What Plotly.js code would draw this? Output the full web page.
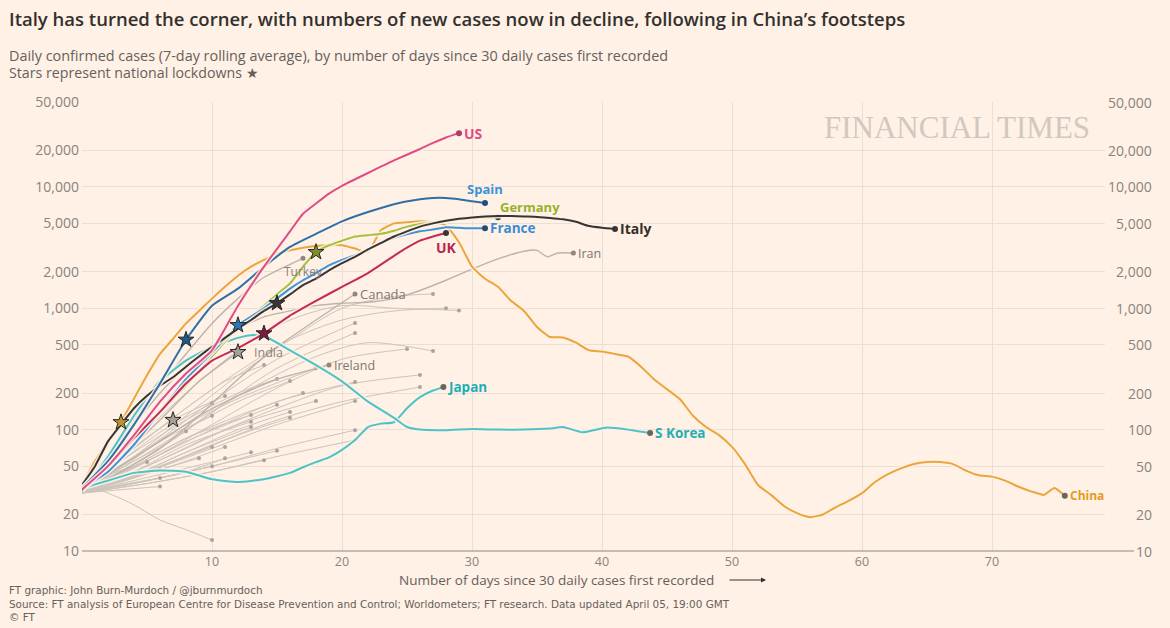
<!DOCTYPE html>
<html><head><meta charset="utf-8">
<script src="https://cdn.plot.ly/plotly-3.0.1.min.js"></script>
<style>html,body{margin:0;padding:0;background:#fff1e5;}#chart{width:1170px;height:628px;}</style>
</head><body><div id="chart"></div>
<script>
// ---------------- DATA ----------------
const yTickVals = [10, 20, 50, 100, 200, 500, 1000, 2000, 5000, 10000, 20000, 50000];
const xTickVals = [10, 20, 30, 40, 50, 60, 70];

const usDays = [0,2,4,6,8,10,12,14,16,17,18,19,20,22,24,26,27,28,29];
const usVals = [32,50,90,170,290,450,1050,2200,4300,6000,7300,8800,10200,13000,16500,20500,23000,25500,27700];

const spainDays = [0,2,4,6,8,10,12,14,16,18,20,22,24,26,27,28,29,30,31];
const spainVals = [33,55,110,240,550,1050,1450,2200,3200,4100,5200,6200,7200,7900,8100,8100,7900,7600,7360];

const franceDays = [0,2,4,6,8,10,12,14,16,17,18,19,20,22,23,24,26,27,28,29,30,31];
const franceVals = [33,45,75,140,260,430,725,1000,1450,1700,1950,2250,2500,3000,3450,3800,4300,4450,4650,4600,4550,4570];

const germanyDays = [0,2,4,6,8,10,12,13,14,15,16,17,18,19,20,21,22,23,24,25,26,27,28,29,30,31,32];
const germanyVals = [33,50,85,140,230,400,700,850,1050,1300,1600,2200,2900,3300,3600,3900,4000,4100,4350,4700,4950,5100,5250,5400,5500,5600,5630];

const italyDays = [0,1,2,3,4,5,6,7,8,9,10,11,12,13,14,15,16,17,18,19,20,21,22,23,24,25,26,27,28,29,30,31,32,33,34,35,36,37,38,39,40,41];
const italyVals = [35,50,80,110,150,190,230,270,330,400,480,570,680,800,950,1100,1300,1550,1750,2050,2350,2650,3050,3450,3900,4300,4700,5000,5250,5450,5600,5700,5750,5750,5700,5650,5550,5400,5150,4750,4600,4500];

const ukDays = [0,2,4,6,8,10,12,14,16,17,18,20,22,24,25,26,27,28];
const ukVals = [33,50,85,140,240,370,470,620,870,1000,1150,1500,1950,2700,3150,3600,3900,4170];

const chinaDays = [0,1,2,3,4,5,6,7,8,9,10,11,12,13,14,15,16,17,18,19,20,21,22,23,24,25,26,27,28,29,30,31,32,33,34,35,36,37,38,39,40,41,42,43,44,45,46,47,48,49,50,51,52,53,54,55,56,57,58,59,60,61,62,63,64,65,66,67,68,69,70,71,72,73,74,74.8,75.6];
const chinaVals = [35,55,80,115,180,280,420,560,750,950,1200,1500,1850,2200,2500,2800,3000,3150,3250,3300,3300,3100,2900,4400,5000,5100,5200,5100,4800,3500,2200,1750,1500,1150,950,700,580,575,520,450,440,420,400,330,260,215,178,130,105,90,72,52,35,29,23.5,20.5,19,20,23,26,30,37,43,48,52,54,54,52,46,42,41,38,34,31,29,33,28.5];

const skoreaDays = [0,2,4,6,8,10,12,13,14,16,18,20,22,24,25,26,28,30,32,34,36,37,38.5,40.4,42.3,43.7];
const skoreaVals = [31,60,130,250,370,480,570,600,590,450,340,250,170,125,105,100,99,101,100,100,102,105,95,104,99,94];

const japanDays = [0,2,4,6,8,10,12,14,16,17,18,19,20,21,22,23,24,25,26,27,27.8];
const japanVals = [33,38,44,46,45,39,37,39,44,49,54,59,68,82,105,112,115,150,185,210,224];

const iranDays = [0,2,4,6,8,10,12,14,16,18,20,22,24,26,28,30,32,34,35,35.8,36.6,37.8];
const iranVals = [33,60,110,200,330,500,680,850,950,1050,1100,1120,1200,1400,1700,2100,2550,2950,3000,2650,2850,2850];

const canadaDays = [0,3,6,9,12,15,18,21];
const canadaVals = [31,45,70,130,260,480,800,1310];
const turkeyDays = [0,2,4,6,8,10,12,14,17];
const turkeyVals = [33,60,120,230,420,750,1200,1800,2580];
const indiaDays = [0,3,6,9,12];
const indiaVals = [32,60,120,250,435];
const irelandDays = [0,3,6,9,12,15,19];
const irelandVals = [31,50,80,130,190,260,340];

// unlabelled grey countries
const greyDays = [
  [0,4,8,12,16,20,24,27],[0,4,8,12,16,20,24,28],[0,4,8,12,16,20,24,29],
  [0,5,10,15,21],[0,5,10,15,21],[0,5,10,15,20,25],[0,6,12,18,22,27],
  [0,5,10,15,20,26],[0,5,10,15,20,26],[0,5,10,15,21],[0,5,10,15,21],
  [0,5,10,15,21],[0,5,10,15,21],[0,4,8,12,18],[0,4,8,12,18],[0,4,8,12,17],
  [0,4,8,12,16],[0,4,8,12,15],[0,4,8,12,15],[0,4,8,12,16],[0,4,8,12,16],
  [0,4,8,13],[0,4,8,13],[0,4,8,13],[0,3,6,10],[0,3,6,10],[0,3,7,11],
  [0,3,6,8],[0,4,7,10],[0,4,8,11],[0,3,6,9],[0,4,8,11],[0,4,8,13],
  [0,5,10,14],[0,5,10,15],[0,4,7,10],[0,2,5],[0,3,6],[0,3,6],[0,3,6],
  [0,2,4,6,8,10],[0,4,8,11,14]
];
const greyVals = [
  [32,60,130,280,550,1000,1250,1310],[33,70,150,300,550,800,950,1000],[34,80,200,450,800,1050,1000,960],
  [32,70,170,380,755],[31,60,140,320,625],[32,55,110,220,380,461],[30,70,190,400,520,444],
  [31,50,90,150,230,282],[30,45,75,120,170,224],[31,55,100,170,247],[30,45,70,110,172],
  [30,38,50,70,99],[30,36,45,60,82],[32,60,110,180,321],[30,45,70,110,172],[31,50,85,130,200],
  [32,55,100,170,251],[33,65,120,200,261],[30,48,80,120,160],[30,42,65,100,140],[30,40,60,90,125],
  [31,50,85,132],[30,45,75,116],[30,42,65,105],[33,55,95,165],[31,48,80,130],[33,60,120,189],
  [31,48,72,97],[30,42,55,72],[31,40,55,72],[30,38,47,58],[30,36,45,58],[30,38,48,65],
  [30,36,45,56],[31,38,50,67],[30,36,42,50],[32,42,54],[31,38,47],[30,35,40],[30,32,34],
  [36,30,24,18,15,12.3],[32,70,150,250,340]
];

// national lockdown stars
const starDays = [3, 7, 8, 12, 12, 14, 15, 18];
const starVals = [115, 120, 550, 725, 435, 620, 1100, 2900];
const starFill = ['#b8952e', '#a8a098', '#1d5a86', '#2a77b8', '#a8a098', '#7e1a3b', '#3b3535', '#7f8e27'];

// ---------------- LAYOUT HELPERS ----------------
const W = 1170, H = 628;
const L = 82, R = 65, T = 102, B = 77;
const PW = W - L - R, PH = H - T - B;
const px = p => (p - L) / PW;        // pixel x -> paper x
const py = p => (H - B - p) / PH;    // pixel y -> paper y
const FONT = 'Open Sans, Noto Sans, sans-serif';
const BG = '#fff1e5';
const last = a => a[a.length - 1];
const lg = v => Math.log10(v);

const traces = [];
const annotations = [];

// grey lines
greyDays.forEach((d, i) => {
  traces.push({x: d, y: greyVals[i], mode: 'lines', hoverinfo: 'skip',
    line: {color: '#cdc4bb', width: 1, shape: 'spline', smoothing: 0.8}});
});
traces.push({x: greyDays.map(last), y: greyVals.map(last), mode: 'markers', hoverinfo: 'skip',
  marker: {size: 4, color: '#aca49c'}});

// labelled series
const series = [
  {name: 'Iran', d: iranDays, v: iranVals, color: '#bdb3aa', w: 1.4, lc: '#7d7670', bold: false, size: 12.5, pos: 'right'},
  {name: 'Canada', d: canadaDays, v: canadaVals, color: '#bdb3aa', w: 1.4, lc: '#7d7670', bold: false, size: 13, pos: 'right'},
  {name: 'Turkey', d: turkeyDays, v: turkeyVals, color: '#bdb3aa', w: 1.4, lc: '#8a837c', bold: false, size: 12, pos: 'below'},
  {name: 'India', d: indiaDays, v: indiaVals, color: '#bdb3aa', w: 1.4, lc: '#8a837c', bold: false, size: 12.5, pos: 'rightfar'},
  {name: 'Ireland', d: irelandDays, v: irelandVals, color: '#bdb3aa', w: 1.4, lc: '#7d7670', bold: false, size: 12.5, pos: 'right'},
  {name: 'Japan', d: japanDays, v: japanVals, color: '#4cc3c7', w: 2, lc: '#22aeb6', bold: true, size: 13.5, pos: 'right'},
  {name: 'S Korea', d: skoreaDays, v: skoreaVals, color: '#4cc3c7', w: 2, lc: '#22aeb6', bold: true, size: 13.5, pos: 'right'},
  {name: 'China', d: chinaDays, v: chinaVals, color: '#eba53c', w: 2, lc: '#e39b22', bold: true, size: 12, pos: 'right'},
  {name: 'Germany', d: germanyDays, v: germanyVals, color: '#a3c13f', w: 2, lc: '#96b22c', bold: true, size: 13, pos: 'upright'},
  {name: 'France', d: franceDays, v: franceVals, color: '#3f92da', w: 2, lc: '#3a8bd6', bold: true, size: 13.5, pos: 'right'},
  {name: 'UK', d: ukDays, v: ukVals, color: '#c22b58', w: 2, lc: '#b8244f', bold: true, size: 14, pos: 'below'},
  {name: 'Italy', d: italyDays, v: italyVals, color: '#3a3535', w: 2, lc: '#33302e', bold: true, size: 14, pos: 'right'},
  {name: 'Spain', d: spainDays, v: spainVals, color: '#2f6fa6', w: 2, lc: '#3a92d8', bold: true, size: 13, pos: 'above'},
  {name: 'US', d: usDays, v: usVals, color: '#df4d86', w: 2, lc: '#df4d86', bold: true, size: 14, pos: 'right'}
];

series.forEach(s => {
  if (s.w >= 2) {
    traces.push({x: s.d, y: s.v, mode: 'lines', hoverinfo: 'skip',
      line: {color: BG, width: 5, shape: 'spline', smoothing: 0.5}, opacity: 0.85});
  }
  traces.push({x: s.d, y: s.v, mode: 'lines', hoverinfo: 'skip',
    line: {color: s.color, width: s.w, shape: 'spline', smoothing: 0.5}});
  let dotColor = s.w >= 2 ? '#3a3535' : '#8f8780';
  if (s.name === 'China' || s.name === 'Japan' || s.name === 'S Korea') dotColor = '#6b6560';
  if (s.name === 'US') dotColor = '#b23a68';
  if (s.name === 'Spain' || s.name === 'France') dotColor = '#1f4f78';
  traces.push({x: [last(s.d)], y: [last(s.v)], mode: 'markers', hoverinfo: 'skip',
    marker: {size: s.w >= 2 ? 6 : 5, color: dotColor}});
  const a = {x: last(s.d), y: lg(last(s.v)), xref: 'x', yref: 'y', showarrow: false,
    text: s.bold ? '<b>' + s.name + '</b>' : s.name,
    font: {family: FONT, size: s.size, color: s.lc}};
  if (s.pos === 'right') { a.xanchor = 'left'; a.yanchor = 'middle'; a.xshift = 3; }
  if (s.pos === 'rightfar') { a.xanchor = 'left'; a.yanchor = 'middle'; a.xshift = 14; }
  if (s.pos === 'above') { a.xanchor = 'center'; a.yanchor = 'bottom'; a.yshift = 3; }
  if (s.pos === 'upright') { a.xanchor = 'left'; a.yanchor = 'bottom'; a.xshift = 0; a.yshift = -1; }
  if (s.pos === 'below') { a.xanchor = 'center'; a.yanchor = 'top'; a.yshift = -3; }
  annotations.push(a);
});

// stars
traces.push({x: starDays, y: starVals, mode: 'markers', hoverinfo: 'skip',
  marker: {symbol: 'star', size: 12, color: starFill, line: {color: '#2b2725', width: 1}}});

// right-hand y tick labels
yTickVals.forEach(v => {
  annotations.push({x: px(1154), xref: 'paper', y: lg(v), yref: 'y', xanchor: 'right', yanchor: 'middle',
    showarrow: false, text: v.toLocaleString('en-US'), font: {family: FONT, size: 14, color: '#8a837d'}});
});

// text blocks
const txt = (text, x, y, size, color, extra) => Object.assign({text, x: px(x), y: py(y), xref: 'paper', yref: 'paper',
  xanchor: 'left', yanchor: 'middle', showarrow: false, font: {family: FONT, size, color}}, extra || {});
annotations.push(txt('Italy has turned the corner, with numbers of new cases now in decline, following in China\u2019s footsteps', 7, 18, 18.5, '#33302e', {font: {family: FONT, size: 18.5, color: '#33302e', weight: 600}}));
annotations.push(txt('Daily confirmed cases (7-day rolling average), by number of days since 30 daily cases first recorded', 7, 55, 14.4, '#66605c'));
annotations.push(txt('Stars represent national lockdowns \u2605', 7, 72, 14.2, '#66605c'));
annotations.push(txt('FT graphic: John Burn-Murdoch / @jburnmurdoch<br>Source: FT analysis of European Centre for Disease Prevention and Control; Worldometers; FT research. Data updated April 05, 19:00 GMT<br>\u00a9 FT',
  7, 603, 10, '#66605c', {font: {family: 'DejaVu Sans, sans-serif', size: 10.4, color: '#66605c'}, align: 'left'}));
annotations.push(txt('Number of days since 30 daily cases first recorded', 556, 580, 13.5, '#66605c', {xanchor: 'center'}));
annotations.push({x: px(766), y: py(580), ax: px(728), ay: py(580), xref: 'paper', yref: 'paper', axref: 'paper', ayref: 'paper',
  showarrow: true, arrowhead: 2, arrowsize: 1, arrowwidth: 1, arrowcolor: '#33302e', text: ''});
annotations.push({text: 'FINANCIAL TIMES', x: px(957), y: py(128), xref: 'paper', yref: 'paper', xanchor: 'center', yanchor: 'middle',
  showarrow: false, font: {family: 'Liberation Serif, DejaVu Serif, serif', size: 31, color: '#d2c8bf'}});

const layout = {
  width: W, height: H,
  paper_bgcolor: BG, plot_bgcolor: BG,
  margin: {l: L, r: R, t: T, b: B, pad: 0},
  showlegend: false,
  font: {family: FONT, color: '#66605c'},
  xaxis: {range: [0, PW / 13], tickvals: xTickVals, ticks: '', showgrid: true, gridcolor: '#eadfd4', gridwidth: 1,
    zeroline: false, showline: false, tickfont: {family: FONT, size: 12.5, color: '#8a837d'}, ticklabelstandoff: 1},
  yaxis: {type: 'log', range: [1, lg(50000)], tickvals: yTickVals, ticktext: yTickVals.map(v => v.toLocaleString('en-US')),
    ticks: '', showgrid: true, gridcolor: '#eadfd4', gridwidth: 1, zeroline: false, showline: false,
    tickfont: {family: FONT, size: 14, color: '#8a837d'}, ticklabelstandoff: 2},
  shapes: [{type: 'line', xref: 'paper', yref: 'paper', x0: 0, x1: px(1134), y0: 0, y1: 0, line: {color: '#8c857e', width: 1}}],
  annotations: annotations
};

Plotly.newPlot('chart', traces, layout, {staticPlot: true, displayModeBar: false});
</script></body></html>
